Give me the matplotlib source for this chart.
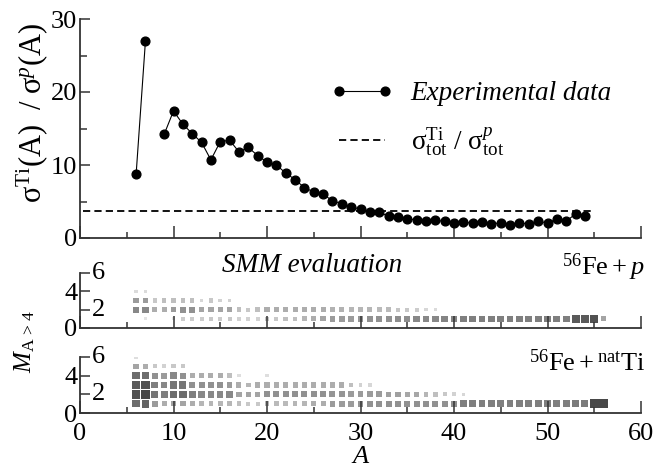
import matplotlib
matplotlib.use('Agg')
import matplotlib.pyplot as plt
from matplotlib.patches import Rectangle
from matplotlib.ticker import MultipleLocator

plt.rcParams['font.family'] = 'serif'
plt.rcParams['font.serif'] = ['Liberation Serif', 'DejaVu Serif']
plt.rcParams['mathtext.fontset'] = 'custom'
plt.rcParams['mathtext.rm'] = 'Liberation Serif'
plt.rcParams['mathtext.it'] = 'Liberation Serif:italic'
plt.rcParams['mathtext.bf'] = 'Liberation Serif:bold'

# experimental ratio sigma^Ti(A) / sigma^p(A)
a_light = [6, 7]
r_light = [8.7, 27.0]
a_heavy = list(range(9, 55))
r_heavy = [14.2, 17.4, 15.6, 14.3, 13.1, 10.7, 13.2, 13.4, 11.8, 12.4,
           11.3, 10.4, 10.0, 8.9, 8.0, 6.9, 6.3, 6.0, 5.1, 4.7,
           4.2, 4.0, 3.5, 3.5, 3.0, 2.9, 2.6, 2.5, 2.3, 2.4,
           2.3, 2.1, 2.2, 2.0, 2.15, 1.9, 2.1, 1.8, 2.1, 1.9,
           2.3, 2.05, 2.6, 2.3, 3.3, 3.05]
tot_ratio = 3.75
tot_range = [0.3, 54.6]

# SMM multiplicity weights, each row starts at A = 6
a_first = 6
fep_m1 = [0, 0.05, 0, 0, 0.05, 0.18, 0.18, 0.18, 0.2, 0.18, 0.2,
          0.15, 0.15, 0.15,
          0.2, 0.2, 0.25, 0.25, 0.3, 0.35, 0.4,
          0.45, 0.45, 0.45, 0.48, 0.5, 0.5, 0.5, 0.52, 0.52, 0.55, 0.55, 0.55, 0.57, 0.57,
          0.6, 0.6, 0.6, 0.6, 0.6, 0.6, 0.6, 0.6, 0.6, 0.6, 0.6, 0.6,
          0.8, 0.8, 0.85, 0.4]
fep_m2 = [0.55, 0.55, 0.35, 0.35, 0.45, 0.5, 0.5, 0.4, 0.4, 0.4, 0.4,
          0.25, 0.2, 0.25,
          0.35, 0.35, 0.35, 0.35, 0.35, 0.35, 0.35,
          0.32, 0.32, 0.3, 0.3, 0.3, 0.28, 0.28, 0.22, 0.2, 0.18, 0.12, 0.1]
fep_m3 = [0.45, 0.45, 0.2, 0.25, 0.25, 0.25, 0.25, 0.12, 0.2, 0.15, 0.15]
fep_m4 = [0.1, 0.1]

feti_m1 = [0.7, 0.75, 0.45, 0.35, 0.4, 0.4, 0.35, 0.3, 0.3, 0.3, 0.3,
           0.25, 0.2, 0.2,
           0.3, 0.28, 0.28, 0.3, 0.3, 0.35, 0.35,
           0.45, 0.45, 0.45, 0.48, 0.5, 0.5, 0.5, 0.5, 0.5, 0.5, 0.5, 0.5, 0.5, 0.5,
           0.6, 0.6, 0.6, 0.6, 0.6, 0.6, 0.6, 0.6, 0.6, 0.6, 0.6, 0.6, 0.62, 0.62,
           0.9, 0.9]
feti_m2 = [0.85, 0.9, 0.65, 0.6, 0.7, 0.7, 0.6, 0.55, 0.55, 0.55, 0.55,
           0.4, 0.4, 0.4,
           0.5, 0.5, 0.5, 0.5, 0.5, 0.5, 0.5, 0.48, 0.48, 0.45, 0.45, 0.45, 0.45,
           0.42, 0.42, 0.38, 0.38, 0.3, 0.25, 0.2, 0.15, 0.12]
feti_m3 = [0.8, 0.85, 0.6, 0.55, 0.65, 0.65, 0.5, 0.5, 0.5, 0.5, 0.45,
           0.35, 0.3, 0.35, 0.35, 0.35, 0.35, 0.35, 0.35, 0.35, 0.35, 0.35, 0.35,
           0.25, 0.15, 0.12]
feti_m4 = [0.7, 0.7, 0.5, 0.45, 0.55, 0.5, 0.35, 0.35, 0.35, 0.35, 0.25,
           0.08, 0, 0, 0.08]
feti_m5 = [0.4, 0.35, 0.2, 0.15, 0.2, 0.2]
feti_m6 = [0.08]

W, H = 658, 468
fig = plt.figure(figsize=(W / 100, H / 100), dpi=100)


def frame(ax, ymax):
    ax.spines['top'].set_visible(False)
    ax.spines['right'].set_visible(False)
    for s in ('left', 'bottom'):
        ax.spines[s].set_linewidth(1.3)
        ax.spines[s].set_color('#333333')
    ax.set_xlim(0, 60)
    ax.set_ylim(0, ymax)
    ax.xaxis.set_major_locator(MultipleLocator(10))
    ax.xaxis.set_minor_locator(MultipleLocator(5))
    ax.tick_params(which='both', direction='in', color='#333333', width=1.1,
                   labelsize=19)
    ax.tick_params(axis='x', which='major', length=8.5, pad=7)
    ax.tick_params(axis='x', which='minor', length=4.5)
    ax.tick_params(axis='y', which='major', length=7, pad=2)
    ax.tick_params(axis='y', which='minor', length=5)


# top panel: ratio of cross sections
ax1 = fig.add_axes([80 / W, (H - 238) / H, 561 / W, 219 / H])
frame(ax1, 30)
ax1.yaxis.set_major_locator(MultipleLocator(10))
ax1.yaxis.set_minor_locator(MultipleLocator(5))
ax1.tick_params(axis='x', labelbottom=False)

ax1.plot(a_light, r_light, color='black', lw=0.8, marker='o', ms=6.3)
exp_line, = ax1.plot(a_heavy, r_heavy, color='black', lw=0.8, marker='o',
                     ms=6.3)
tot_line, = ax1.plot(tot_range, [tot_ratio, tot_ratio], color='black',
                     lw=1.3, dashes=(4, 2.3))
ax1.legend([exp_line, tot_line],
           ['Experimental data',
            r'$\mathrm{\sigma}^{\mathrm{Ti}}_{\mathrm{tot}}$ / '
            r'$\mathrm{\sigma}^{p}_{\mathrm{tot}}$'],
           prop={'size': 19.5}, frameon=False, numpoints=2,
           handlelength=2.33, handletextpad=0.63, labelspacing=0.7,
           loc='upper left', bbox_to_anchor=(306 / W, 1 - 57 / H),
           bbox_transform=fig.transFigure)
ax1.get_legend().get_texts()[0].set_style('italic')

fig.text(32 / W, 1 - 113 / H,
         r'$\mathrm{\sigma}^{\mathrm{Ti}}(\mathrm{A})\ \ /\ \mathrm{\sigma}^{p}(\mathrm{A})$',
         rotation=90, ha='center', va='center', fontsize=22)


def boxes(ax, rows):
    for m, row in enumerate(rows, start=1):
        for i, w in enumerate(row):
            if w <= 0:
                continue
            a = a_first + i
            side = 0.3 + 0.7 * w
            g = 0.93 - 0.72 * w
            ax.add_patch(Rectangle((a - side / 2, m - side / 2), side, side,
                                   facecolor=(g, g, g), edgecolor='none'))


def mult_axis(ax):
    ax.set_yticks([0, 2, 4, 6])
    ax.set_yticklabels(['0', '', '4', ''])
    for v in (2, 6):
        ax.text(2.0, v, str(v), ha='center', va='center', fontsize=19)


# middle panel: Fe + p
ax2 = fig.add_axes([80 / W, (H - 328) / H, 561 / W, 55 / H])
frame(ax2, 6)
mult_axis(ax2)
ax2.tick_params(axis='x', labelbottom=False)
boxes(ax2, [fep_m1, fep_m2, fep_m3, fep_m4])

# bottom panel: Fe + Ti
ax3 = fig.add_axes([80 / W, (H - 413) / H, 561 / W, 56 / H])
frame(ax3, 6)
mult_axis(ax3)
boxes(ax3, [feti_m1, feti_m2, feti_m3, feti_m4, feti_m5, feti_m6])
ax3.set_xlabel(r'$A$', fontsize=19, labelpad=1)

fig.text(312 / W, 1 - 265 / H, 'SMM evaluation', style='italic',
         ha='center', va='center', fontsize=19.5)
fig.text(645 / W, 1 - 267 / H, r'$^{56}\mathrm{Fe}+p$', ha='right',
         va='center', fontsize=19)
fig.text(645 / W, 1 - 363 / H, r'$^{56}\mathrm{Fe}+^{\mathrm{nat}}\mathrm{Ti}$',
         ha='right', va='center', fontsize=19)
fig.text(25 / W, 1 - 341 / H, r'$M_{\mathrm{A}\,>\,4}$', rotation=90,
         ha='center', va='center', fontsize=18)

fig.savefig('out.png', dpi=100)
